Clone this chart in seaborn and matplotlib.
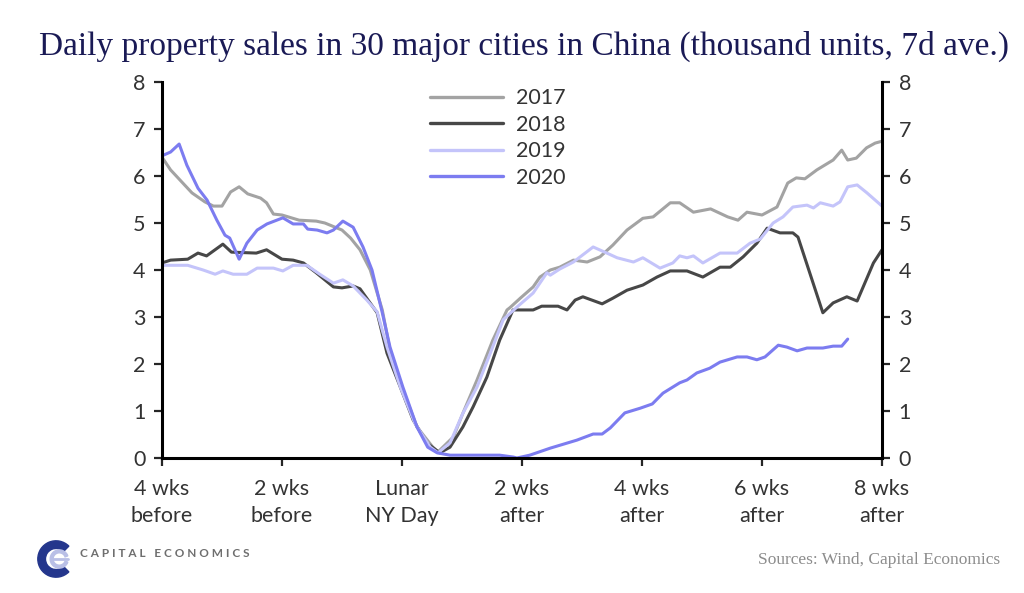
import pandas as pd
import numpy as np
import matplotlib
matplotlib.use("Agg")
import matplotlib.pyplot as plt
from matplotlib.patches import Wedge
import seaborn as sns

# days relative to Lunar New Year, values in thousand units (7d ave)
days_2017 = [-28, -27, -24.5, -23, -22, -21, -20, -19, -18, -16.5, -15.8, -15, -14, -12, -10, -9, -7, -6,
             -4.9, -3.7, -2.3, -1.4, 0.1, 1.75, 3.6, 4.2, 6, 7.1, 8.75, 10.6, 12.25, 12.6, 13.8, 15.3, 16.1,
             17.3, 18.4, 20, 21.6, 23.1, 24.6, 26.25, 28.1, 29.3, 31.3, 32.4, 34, 36, 38, 39.2, 40.25, 42,
             43.75, 45, 46, 47, 48.4, 50.3, 51.3, 52, 53, 54.2, 55.2, 56]
sales_2017 = [6.40, 6.13, 5.64, 5.45, 5.36, 5.36, 5.66, 5.77, 5.62, 5.53, 5.43, 5.19, 5.17, 5.06, 5.04, 5.0,
              4.85, 4.68, 4.43, 4.0, 3.15, 2.3, 1.45, 0.66, 0.23, 0.13, 0.45, 0.95, 1.66, 2.51, 3.15, 3.2,
              3.4, 3.64, 3.85, 4.0, 4.06, 4.21, 4.17, 4.28, 4.53, 4.85, 5.1, 5.13, 5.43, 5.43, 5.23, 5.3,
              5.13, 5.06, 5.23, 5.17, 5.34, 5.85, 5.96, 5.94, 6.13, 6.34, 6.55, 6.34, 6.38, 6.6, 6.7, 6.74]

days_2018 = [-28, -27, -25, -23.8, -22.8, -20.9, -19.9, -17, -15.8, -14, -12.7, -11.5, -10, -8, -7, -5.7,
             -4.9, -2.9, -1.75, -0.2, 1.3, 2.9, 4.4, 5.6, 7.1, 8.3, 9.9, 11.4, 12.95, 15.3, 16.3, 18.2,
             19.25, 20.2, 21.1, 23.35, 24.6, 26.25, 28.1, 29.75, 31.3, 33.25, 35.1, 37.1, 38.3, 39.8, 41.4,
             42.6, 44.1, 45.6, 46.2, 49.1, 50.3, 51.9, 53.1, 55, 56]
sales_2018 = [4.15, 4.21, 4.23, 4.36, 4.30, 4.55, 4.38, 4.36, 4.43, 4.23, 4.21, 4.15, 3.94, 3.64, 3.62, 3.66,
              3.6, 3.09, 2.23, 1.51, 0.81, 0.32, 0.11, 0.23, 0.66, 1.09, 1.72, 2.51, 3.15, 3.15, 3.23, 3.23,
              3.15, 3.36, 3.43, 3.28, 3.4, 3.57, 3.68, 3.85, 3.98, 3.98, 3.85, 4.06, 4.06, 4.28, 4.57,
              4.89, 4.79, 4.79, 4.70, 3.09, 3.30, 3.43, 3.34, 4.15, 4.43]

days_2019 = [-28, -25, -23.2, -21.8, -20.9, -19.7, -18.1, -16.9, -15, -13.9, -12.7, -11.1, -9.6, -8, -6.9,
             -5.7, -4.1, -2.9, -1.75, -0.2, 1.5, 3.3, 4.2, 5.6, 7.1, 8.75, 10.3, 11.8, 13.4, 15.3, 16.9,
             17.3, 18.4, 20, 22.3, 23.9, 25.1, 27, 28.1, 30.1, 31.6, 32.4, 33.25, 34, 35.1, 37.1, 39.1,
             40.6, 41.8, 43.3, 44.45, 45.6, 47.25, 48, 48.8, 50.3, 51.1, 52, 53.1, 54.25, 56]
sales_2019 = [4.10, 4.10, 4.00, 3.91, 3.98, 3.91, 3.91, 4.04, 4.04, 3.98, 4.10, 4.10, 3.91, 3.72, 3.79,
              3.66, 3.36, 3.11, 2.36, 1.51, 0.74, 0.23, 0.11, 0.32, 0.95, 1.51, 2.23, 2.94, 3.21, 3.51, 3.94,
              3.89, 4.02, 4.17, 4.49, 4.36, 4.26, 4.17, 4.26, 4.04, 4.15, 4.3, 4.26, 4.3, 4.15, 4.36, 4.36,
              4.57, 4.66, 5.0, 5.13, 5.34, 5.38, 5.32, 5.43, 5.36, 5.45, 5.77, 5.81, 5.64, 5.36]

days_2020 = [-28, -27, -26, -25.1, -23.8, -22.75, -21.6, -20.65, -20.1, -19, -18.1, -16.9, -15.75, -13.9,
             -12.7, -11.5, -11, -9.9, -8.75, -8, -6.9, -5.7, -4.55, -3.5, -2.3, -1.4, 0.1, 1.75, 3.0, 4.1,
             5.6, 11.4, 13, 13.4, 14.9, 17.3, 20.4, 22.3, 23.35, 24.3, 26, 27.8, 29.2, 30.45, 32.4, 33.25,
             34.4, 35.9, 37.1, 39.1, 40.25, 41.4, 42.35, 43.9, 44.9, 46.1, 47.25, 49.1, 50.3, 51.3, 52]
sales_2020 = [6.43, 6.51, 6.68, 6.23, 5.74, 5.49, 5.06, 4.74, 4.68, 4.23, 4.57, 4.85, 4.98, 5.11,
              4.98, 4.98, 4.87, 4.85, 4.79, 4.85, 5.04, 4.91, 4.49, 4.0, 3.09, 2.36, 1.51, 0.66, 0.23, 0.11,
              0.06, 0.06, 0.02, 0.0, 0.06, 0.21, 0.38, 0.51, 0.51, 0.64, 0.96, 1.06, 1.15, 1.38, 1.6, 1.66,
              1.81, 1.91, 2.04, 2.15, 2.15, 2.09, 2.15, 2.4, 2.36, 2.28, 2.34, 2.34, 2.38, 2.38, 2.53]

tick_days = [-28, -14, 0, 14, 28, 42, 56]
tick_labels = ["4 wks\nbefore", "2 wks\nbefore", "Lunar\nNY Day", "2 wks\nafter",
               "4 wks\nafter", "6 wks\nafter", "8 wks\nafter"]

df = pd.concat([
    pd.DataFrame({"day": days_2017, "sales": sales_2017, "year": "2017"}),
    pd.DataFrame({"day": days_2018, "sales": sales_2018, "year": "2018"}),
    pd.DataFrame({"day": days_2019, "sales": sales_2019, "year": "2019"}),
    pd.DataFrame({"day": days_2020, "sales": sales_2020, "year": "2020"}),
])
colors = {"2017": "#a3a3a3", "2018": "#474747", "2019": "#c4c4fa", "2020": "#7c7cf0"}

sns.set_style("white")
plt.rcParams["font.family"] = ["Lato", "DejaVu Sans"]

fig = plt.figure(figsize=(10.24, 5.93), dpi=100)
ax = fig.add_axes([162 / 1024, 1 - 458 / 593, 720 / 1024, 376 / 593])

sns.lineplot(data=df, x="day", y="sales", hue="year", palette=colors, linewidth=2.2,
             estimator=None, sort=False, ax=ax)

ax.set_xlim(-28, 56)
ax.set_ylim(0, 8)
ax.set_xticks(tick_days)
ax.set_xticklabels(tick_labels, fontsize=15.5, color="#333333", linespacing=1.45)
ax.set_yticks(range(0, 9))
ax.tick_params(axis="y", left=True, right=True, labelleft=True, labelright=True,
               direction="out", length=6, width=1.6, labelsize=15.5, labelcolor="#333333", pad=6)
ax.tick_params(axis="x", bottom=True, direction="out", length=6, width=1.6, pad=9)
ax.set_xlabel("")
ax.set_ylabel("")
for side in ["left", "right", "bottom"]:
    ax.spines[side].set_linewidth(2.2)
    ax.spines[side].set_color("black")
ax.spines["top"].set_visible(False)

leg = ax.legend(loc="upper left", bbox_to_anchor=(0.345, 1.035), frameon=False, fontsize=15.5,
                handlelength=3.4, labelspacing=0.3, handletextpad=0.6)
for t in leg.get_texts():
    t.set_color("#333333")
for h in leg.get_lines():
    h.set_linewidth(2.4)

fig.text(0.512, 0.922, "Daily property sales in 30 major cities in China (thousand units, 7d ave.)",
         ha="center", va="center", fontsize=24, color="#1a1a55", family=["Liberation Serif", "DejaVu Serif"])
fig.text(0.977, 0.055, "Sources: Wind, Capital Economics", ha="right", va="center", fontsize=12.5,
         color="#8c8c8c", family=["Liberation Serif", "DejaVu Serif"])

# logo: navy C ring with a light "e" inside, then the company name
lax = fig.add_axes([36 / 1024, 1 - 580 / 593, 40 / 1024, 42 / 593])
lax.set_xlim(-1.1, 1.1)
lax.set_ylim(-1.1, 1.1)
lax.set_aspect("equal")
lax.axis("off")
lax.add_patch(Wedge((0, 0), 1.0, 45, 315, width=0.42, color="#24368c"))
lax.add_patch(Wedge((0.18, 0), 0.5, 20, 340, width=0.16, color="#b9bfe6"))
lax.plot([-0.3, 0.66], [0, 0], color="#b9bfe6", lw=2.0)
fig.text(0.078, 0.066, "C A P I T A L   E C O N O M I C S", ha="left", va="center", fontsize=8.5,
         fontweight="bold", color="#6e6e6e")

fig.savefig("out.png", dpi=100)
